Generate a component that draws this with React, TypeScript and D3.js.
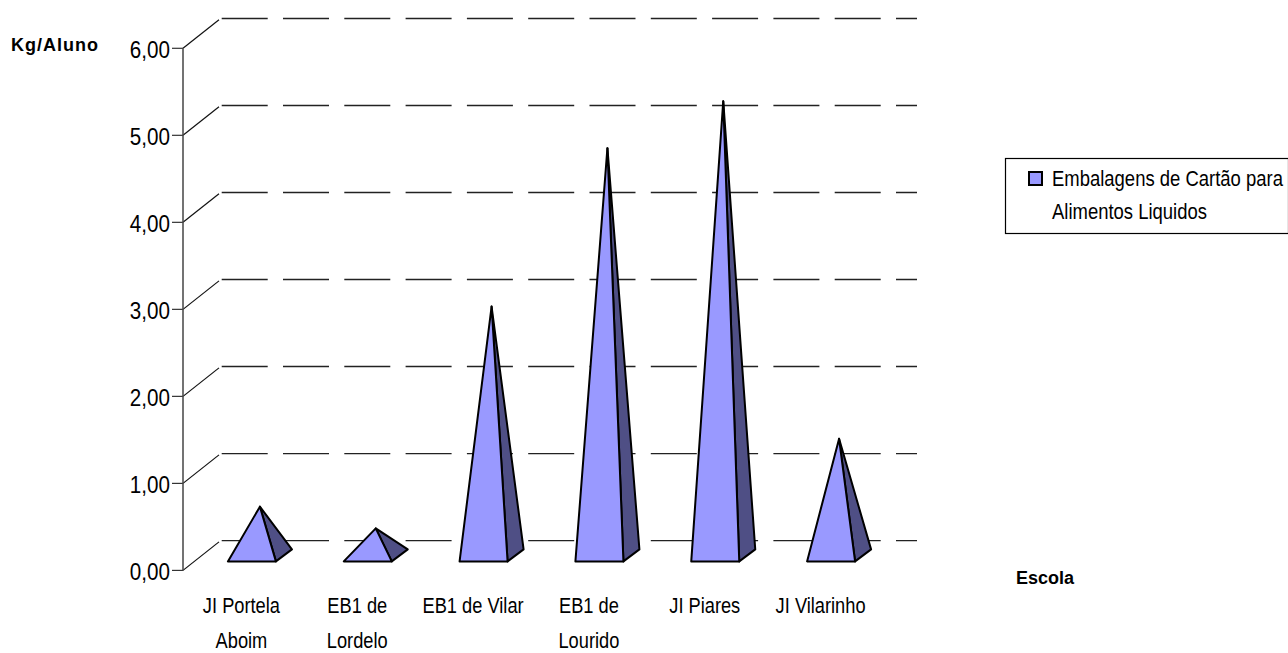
import React from "react";
import * as d3 from "d3";

const categories = [
  ["JI Portela", "Aboim"],
  ["EB1 de", "Lordelo"],
  ["EB1 de Vilar"],
  ["EB1 de", "Lourido"],
  ["JI Piares"],
  ["JI Vilarinho"],
];
const values = [0.56, 0.31, 2.86, 4.68, 5.22, 1.34];
const yTicks = [0, 1, 2, 3, 4, 5, 6];
const yTitle = "Kg/Aluno";
const xTitle = "Escola";
const legendLines = ["Embalagens de Cartão para", "Alimentos Liquidos"];

const FILL = "#9999ff";
const SIDE = "#4f4f85";
const FONT = "'Liberation Sans', Arial, sans-serif";

function T({ x, y, sx = 1, size, anchor = "start", bold = false, spacing = 0, children }: any) {
  return (
    <text
      transform={`translate(${x},${y}) scale(${sx},1)`}
      textAnchor={anchor}
      fontSize={size}
      fontWeight={bold ? "bold" : "normal"}
      letterSpacing={spacing}
      fill="#000"
      stroke="none"
    >
      {children}
    </text>
  );
}

export default function App() {
  const y = d3.scaleLinear().domain([0, 6]).range([570.4, 48.3]);
  const x = d3.scaleBand<number>().domain(d3.range(categories.length)).range([183, 878]);
  const depthX = 36;
  const depthY = 28.5;
  const gridRise = 29.8;
  const frontX = 11;
  const frontY = 9;
  const barW = 48;
  const sideX = 16;
  const sideY = 12;
  const gridStart = 221.7;
  const gridEnd = 917;
  const fmt = (v: number) => d3.format(".2f")(v).replace(".", ",");
  return (
    <svg
      width={1288}
      height={653}
      style={{ position: "absolute", left: 0, top: 0, background: "#fff" }}
      fontFamily={FONT}
    >
      {yTicks.map((t) => (
        <g key={t}>
          <line
            x1={gridStart}
            x2={gridEnd}
            y1={y(t) - gridRise}
            y2={y(t) - gridRise}
            stroke="#222"
            strokeWidth={1.4}
            strokeDasharray="46 15.3"
          />
          <line x1={183} x2={183 + depthX} y1={y(t)} y2={y(t) - depthY} stroke="#111" strokeWidth={1.2} />
          <line x1={172} x2={183} y1={y(t)} y2={y(t)} stroke="#333" strokeWidth={1.2} />
          <T x={170} y={y(t) + 9.5} size={24} sx={0.86} anchor="end">
            {fmt(t)}
          </T>
        </g>
      ))}
      <line x1={183} x2={183} y1={y(6)} y2={y(0)} stroke="#444" strokeWidth={1.5} />
      {values.map((v, i) => {
        const cx = x(i)! + x.bandwidth() / 2 + frontX;
        const left = cx - barW / 2;
        const right = cx + barW / 2;
        const base = y(0) - frontY;
        const apexX = (left + right + sideX) / 2;
        const apexY = base - sideY / 2 - (y(0) - y(v));
        const front = d3.line()([[left, base], [right, base], [apexX, apexY]]) + "Z";
        const side = d3.line()([[right, base], [right + sideX, base - sideY], [apexX, apexY]]) + "Z";
        return (
          <g key={i} stroke="#000" strokeWidth={2} strokeLinejoin="round">
            <path d={side} fill={SIDE} />
            <path d={front} fill={FILL} />
          </g>
        );
      })}
      {categories.map((lines, i) =>
        lines.map((l, j) => (
          <T key={j} x={x(i)! + x.bandwidth() / 2 + 0.5} y={613 + j * 35} size={22} sx={0.83} anchor="middle">
            {l}
          </T>
        ))
      )}
      <T x={11} y={51} size={18} bold spacing={1}>{yTitle}</T>
      <T x={1016} y={584} size={18} bold>{xTitle}</T>
      <rect x={1005.5} y={158.5} width={283} height={75} fill="#fff" stroke="#000" strokeWidth={1.2} />
      <rect x={1029} y={172} width={13} height={13} fill={FILL} stroke="#000" strokeWidth={2} />
      {legendLines.map((l, i) => (
        <T key={i} x={1052} y={186 + i * 33} size={22} sx={0.84}>
          {l}
        </T>
      ))}
    </svg>
  );
}
